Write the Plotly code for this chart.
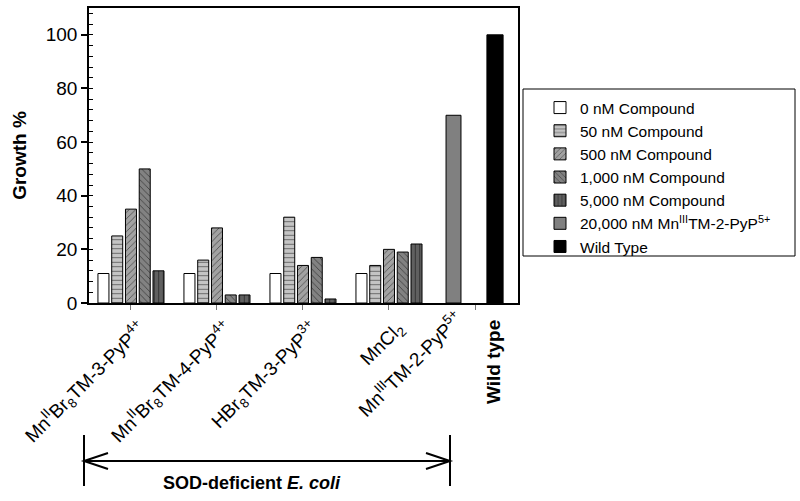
import plotly.graph_objects as go

# ---------------- data ----------------
compounds = [
    "Mn<sup>II</sup>Br<sub>8</sub>TM-3-PyP<sup>4+</sup>",
    "Mn<sup>II</sup>Br<sub>8</sub>TM-4-PyP<sup>4+</sup>",
    "HBr<sub>8</sub>TM-3-PyP<sup>3+</sup>",
    "MnCl<sub>2</sub>",
]
spacer_cat = " "
series_names = [
    "0 nM Compound",
    "50 nM Compound",
    "500 nM Compound",
    "1,000 nM Compound",
    "5,000 nM Compound",
]
vals_0 = [11, 11, 11, 11]
vals_50 = [25, 16, 32, 14]
vals_500 = [35, 28, 14, 20]
vals_1000 = [50, 3, 17, 19]
vals_5000 = [12, 3, 1.5, 22]

mn3_label = "Mn<sup>III</sup>TM-2-PyP<sup>5+</sup>"
mn3_name = "20,000 nM Mn<sup>III</sup>TM-2-PyP<sup>5+</sup>"
mn3_val = [70]
wt_label = "Wild type"
wt_name = "Wild Type"
wt_val = [100]

y_ticks = [0, 20, 40, 60, 80, 100]

# ---------------- styles ----------------
FONT = "Liberation Sans, Arial, sans-serif"
styles = [
    dict(color="white", shape=""),
    dict(color="#c4c4c4", shape="-"),
    dict(color="#a2a2a2", shape="/"),
    dict(color="#828282", shape="\\"),
    dict(color="#606060", shape="|"),
]

# plot-area geometry in pixels (figure 800x501)
L, R, T, B = 89, 518, 8, 303
W_FIG, H_FIG = 800, 501


def px_x(p):
    return (p - L) / (R - L)


def px_y(p):
    return (B - p) / (B - T)


fig = go.Figure()
all_vals = [vals_0, vals_50, vals_500, vals_1000, vals_5000]
for name, vals, st in zip(series_names, all_vals, styles):
    pat = dict(shape=st["shape"], fgcolor="black", size=4.5, solidity=0.2,
               fillmode="overlay") if st["shape"] else None
    fig.add_trace(go.Bar(
        x=compounds, y=vals, name=name, xaxis="x", yaxis="y",
        marker=dict(color=st["color"], line=dict(color="black", width=1),
                    pattern=pat),
    ))

fig.add_trace(go.Bar(
    x=[mn3_label], y=mn3_val, name=mn3_name, xaxis="x2", yaxis="y",
    width=0.36, offset=-0.18,
    marker=dict(color="#808080", line=dict(color="black", width=1)),
))
fig.add_trace(go.Bar(
    x=[wt_label], y=wt_val, name=wt_name, xaxis="x2", yaxis="y",
    width=0.39, offset=-0.195,
    marker=dict(color="black", line=dict(color="black", width=1)),
))

fig.update_layout(
    width=W_FIG, height=H_FIG,
    margin=dict(l=L, r=W_FIG - R, t=T, b=H_FIG - B, pad=0),
    paper_bgcolor="white", plot_bgcolor="white",
    barmode="group", bargap=0.2, bargroupgap=0.2,
    font=dict(family=FONT, color="black", size=18),
    xaxis=dict(
        type="category", categoryorder="array",
        categoryarray=compounds + [spacer_cat],
        range=[-0.488, 4.5], showgrid=False, zeroline=False,
        showline=True, linecolor="black", linewidth=1.5, mirror=True,
        ticks="outside", ticklen=5, tickcolor="#777", tickwidth=1,
        tickangle=-45, tickfont=dict(size=19), automargin=False,
        ticklabelshift=9,
    ),
    xaxis2=dict(
        type="category", overlaying="x", anchor="y", side="bottom",
        categoryorder="array", categoryarray=[mn3_label, wt_label],
        range=[-8.783, 1.554], showgrid=False, zeroline=False,
        showline=False, ticks="", tickvals=[mn3_label], ticktext=[mn3_label],
        tickangle=-45, tickfont=dict(size=19), automargin=False,
        ticklabelshift=4,
    ),
    yaxis=dict(
        range=[0, 110], tickvals=y_ticks, showgrid=False, zeroline=False,
        showline=True, linecolor="black", linewidth=1.5, mirror=True,
        ticks="outside", ticklen=6, tickwidth=1.5, tickcolor="black",
        minor=dict(dtick=4, ticks="inside", ticklen=4, tickcolor="black",
                   tickwidth=1),
        tickfont=dict(size=19), automargin=False,
        title=dict(text="<b>Growth %</b>", font=dict(size=19), standoff=14),
    ),
    yaxis2=dict(
        range=[0, 110], overlaying="y", side="left", anchor="x",
        tickvals=y_ticks, showticklabels=False, showgrid=False,
        zeroline=False, ticks="inside", ticklen=4, tickwidth=1.5,
        tickcolor="black", showline=False, automargin=False,
    ),
    legend=dict(
        x=px_x(540), y=px_y(91), xanchor="left", yanchor="top",
        font=dict(size=15.5), bgcolor="rgba(0,0,0,0)", borderwidth=0,
        traceorder="normal", tracegroupgap=0,
    ),
    showlegend=True,
)

# legend frame
fig.add_shape(type="rect", xref="paper", yref="paper",
              x0=px_x(523), x1=px_x(795), y0=px_y(256), y1=px_y(89),
              line=dict(color="black", width=1))

# SOD-deficient bracket with double arrow
line_style = dict(color="black", width=2)
x_left, x_right, y_mid = 84, 450, 461
for xs in (x_left, x_right):
    fig.add_shape(type="line", xref="paper", yref="paper",
                  x0=px_x(xs), x1=px_x(xs), y0=px_y(435), y1=px_y(486),
                  line=line_style)
fig.add_shape(type="line", xref="paper", yref="paper",
              x0=px_x(x_left), x1=px_x(x_right), y0=px_y(y_mid), y1=px_y(y_mid),
              line=line_style)
for tip, back in ((x_left, x_left + 24), (x_right, x_right - 24)):
    fig.add_shape(type="path", xref="paper", yref="paper",
                  path=(f"M {px_x(back)} {px_y(y_mid - 8)} L {px_x(tip)} {px_y(y_mid)} "
                        f"L {px_x(back)} {px_y(y_mid + 8)}"),
                  line=line_style)

fig.add_annotation(
    text="<b>SOD-deficient <i>E. coli</i></b>", xref="paper", yref="paper",
    x=px_x(252), y=px_y(483), xanchor="center", yanchor="middle",
    showarrow=False, font=dict(size=18),
)
fig.add_annotation(
    text="<b>Wild type</b>", xref="x2", yref="paper", x=wt_label, y=0,
    textangle=-90, xanchor="center", yanchor="top", yshift=-15, xshift=-2,
    showarrow=False, font=dict(size=19),
)

fig.write_html("out.html", config={"displayModeBar": False},
               post_script="document.body.style.margin='0px';")
